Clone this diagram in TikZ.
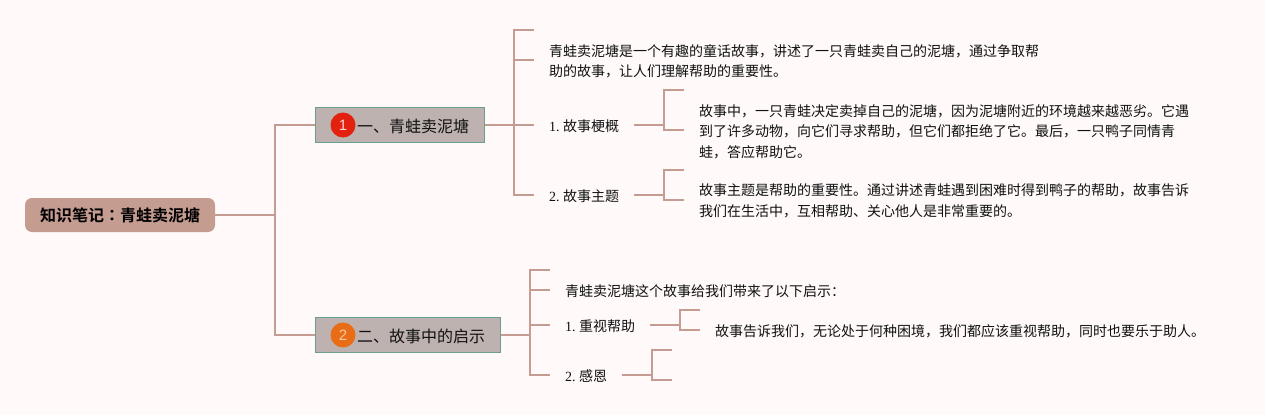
\documentclass[tikz,border=0pt]{standalone}
\usepackage{fontspec}
\newfontfamily\cjk{Noto Sans CJK SC}
\newfontfamily\cjkb{Noto Sans CJK SC Bold}
\newfontfamily\cjktc{Noto Sans CJK TC Bold}
\newfontfamily\numf{Liberation Sans}
\newfontfamily\digf{Liberation Serif}
\definecolor{bgc}{HTML}{FFF9F9}
\definecolor{linkc}{HTML}{C49C92}
\definecolor{rootc}{HTML}{C59C90}
\definecolor{boxc}{HTML}{BDB2AF}
\definecolor{boxb}{HTML}{6B9F90}
\definecolor{inkc}{HTML}{111111}
\definecolor{redc}{HTML}{E2220E}
\definecolor{orgc}{HTML}{E96D17}
\newcommand{\numlabel}[2]{\makebox[14pt][l]{\digf #1}{\cjk #2}}
\tikzset{
  link/.style={draw=linkc,line width=1.8pt},
  rootbox/.style={fill=rootc,rounded corners=7pt,minimum width=190pt,minimum height=34pt,inner sep=0pt,text=black,font=\cjk\fontsize{16}{20}\selectfont},
  topic/.style={fill=boxc,draw=boxb,line width=1pt,minimum height=35pt,inner sep=0pt,anchor=west},
  toptext/.style={anchor=west,inner sep=0pt,text=inkc,font=\cjk\fontsize{16}{20}\selectfont},
  bodytext/.style={anchor=west,inner sep=0pt,text=inkc,align=left,font=\cjk\fontsize{14}{20.5}\selectfont},
  labeltext/.style={anchor=west,inner sep=0pt,text=inkc,font=\fontsize{14}{20}\selectfont},
  badge/.style={circle,minimum size=25pt,inner sep=0pt,text=#1,font=\numf\fontsize{15}{15}\selectfont},
}
\begin{document}
\begin{tikzpicture}[x=1pt,y=-1pt]
\path[use as bounding box,fill=bgc] (0,0) rectangle (1265,415);
% root and topics
\node[rootbox] (root) at (120,215) {{\cjkb 知识笔记}{\cjktc ：}{\cjkb 青蛙卖泥塘}};
\node[topic,minimum width=169pt] (t1) at (315,125) {};
\node[topic,minimum width=184.5pt] (t2) at (315,335) {};
\node[badge=white!80!redc,fill=redc] (b1) at (343,125) {1};
\node[badge=white!60!orgc,fill=orgc] (b2) at (343,335) {2};
\node[toptext] (t1x) at (357,126) {一、青蛙卖泥塘};
\node[toptext] (t2x) at (357,336) {二、故事中的启示};
% labels and bodies
\node[bodytext] (a0) at (549,61.5) {青蛙卖泥塘是一个有趣的童话故事，讲述了一只青蛙卖自己的泥塘，通过争取帮\\助的故事，让人们理解帮助的重要性。};
\node[labeltext] (a1) at (549,126) {\numlabel{1.}{故事梗概}};
\node[labeltext] (a2) at (549,196) {\numlabel{2.}{故事主题}};
\node[bodytext] (a1b) at (699,131.5) {故事中，一只青蛙决定卖掉自己的泥塘，因为泥塘附近的环境越来越恶劣。它遇\\到了许多动物，向它们寻求帮助，但它们都拒绝了它。最后，一只鸭子同情青\\蛙，答应帮助它。};
\node[bodytext] (a2b) at (699,201) {故事主题是帮助的重要性。通过讲述青蛙遇到困难时得到鸭子的帮助，故事告诉\\我们在生活中，互相帮助、关心他人是非常重要的。};
\node[bodytext] (c0) at (565,291) {青蛙卖泥塘这个故事给我们带来了以下启示：};
\node[labeltext] (c1) at (565,326) {\numlabel{1.}{重视帮助}};
\node[labeltext] (c2) at (565,376) {\numlabel{2.}{感恩}};
\node[bodytext] (c1b) at (715,331) {故事告诉我们，无论处于何种困境，我们都应该重视帮助，同时也要乐于助人。};
% junctions and free ends
\coordinate (jr) at (275,215);
\coordinate (jrt) at (275,125);
\coordinate (jrb) at (275,335);
\coordinate (j1) at (514,125);
\coordinate (j1t) at (514,30);
\coordinate (j1m) at (514,60);
\coordinate (j1b) at (514,195);
\coordinate (e1t) at (534,30);
\coordinate (e1m) at (534,60);
\coordinate (e1a) at (534,125);
\coordinate (e1b) at (534,195);
\coordinate (j2) at (530,335);
\coordinate (j2t) at (530,270);
\coordinate (j2m) at (530,290);
\coordinate (j2a) at (530,325);
\coordinate (j2b) at (530,375);
\coordinate (e2t) at (550,270);
\coordinate (e2m) at (550,290);
\coordinate (e2a) at (550,325);
\coordinate (e2b) at (550,375);
% root to topics
\draw[link] (root.east) -- (jr);
\draw[link] (t1.west) -- (jrt) -- (jrb) -- (t2.west);
% topic one
\draw[link] (t1.east) -- (e1a);
\draw[link] (e1t) -- (j1t) -- (j1b) -- (e1b);
\draw[link] (j1m) -- (e1m);
% topic two
\draw[link] (t2.east) -- (j2);
\draw[link] (e2t) -- (j2t) -- (j2b) -- (e2b);
\draw[link] (j2m) -- (e2m);
\draw[link] (j2a) -- (e2a);
% third level
\draw[link] (634,125) coordinate (s1) -- (664,125) coordinate (k1);
\draw[link] (684,90) coordinate (k1t) -- (664,90) -- (664,130) -- (684,130) coordinate (k1b);
\draw[link] (634,195) coordinate (s2) -- (664,195) coordinate (k2);
\draw[link] (684,170) coordinate (k2t) -- (664,170) -- (664,200) -- (684,200) coordinate (k2b);
\draw[link] (650,325) coordinate (s3) -- (680,325) coordinate (k3);
\draw[link] (700,310) coordinate (k3t) -- (680,310) -- (680,330) -- (700,330) coordinate (k3b);
\draw[link] (622,375) coordinate (s4) -- (652,375) coordinate (k4);
\draw[link] (672,350) coordinate (k4t) -- (652,350) -- (652,380) -- (672,380) coordinate (k4b);
\end{tikzpicture}
\end{document}
